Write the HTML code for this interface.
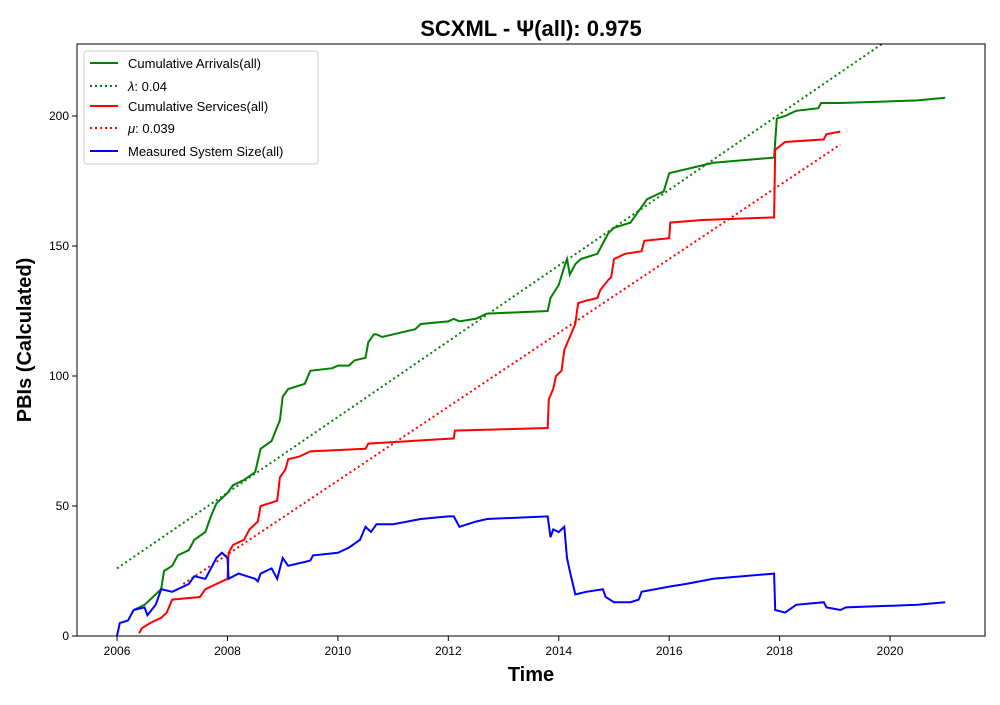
<!DOCTYPE html>
<html><head><meta charset="utf-8"><style>
body{margin:0;background:#fff;font-family:"Liberation Sans","DejaVu Sans",sans-serif}
svg text{font-family:"Liberation Sans","DejaVu Sans",sans-serif}
</style></head><body>
<svg id="chart" width="1000" height="700" xmlns="http://www.w3.org/2000/svg">
<rect width="1000" height="700" fill="#fff"/>
<text x="531" y="36" text-anchor="middle" font-size="22" font-weight="bold">SCXML -  Ψ(all): 0.975</text>
<text x="531" y="681" text-anchor="middle" font-size="20" font-weight="bold">Time</text>
<text transform="translate(31,340) rotate(-90)" text-anchor="middle" font-size="20" font-weight="bold">PBIs (Calculated)</text>
<defs><clipPath id="pc"><rect x="77" y="44" width="908" height="592"/></clipPath></defs>
<g id="ticks"></g>
<g id="series" clip-path="url(#pc)"></g>
<rect x="77" y="44" width="908" height="592" fill="none" stroke="#000" stroke-width="1"/>
<g>
<rect x="84" y="51" width="234" height="113" rx="3" fill="#fff" fill-opacity="0.8" stroke="#ccc"/>
<g><line x1="90" y1="63" x2="118" y2="63" stroke="green" stroke-width="2"/><text x="128" y="68" font-size="13">Cumulative Arrivals(all)</text></g>
<g><line x1="90" y1="86" x2="118" y2="86" stroke="green" stroke-width="2" stroke-dasharray="2,3"/><text x="128" y="91" font-size="13"><tspan font-style="italic">λ</tspan>: 0.04</text></g>
<g><line x1="90" y1="106" x2="118" y2="106" stroke="red" stroke-width="2"/><text x="128" y="111" font-size="13">Cumulative Services(all)</text></g>
<g><line x1="90" y1="128" x2="118" y2="128" stroke="red" stroke-width="2" stroke-dasharray="2,3"/><text x="128" y="133" font-size="13"><tspan font-style="italic">μ</tspan>: 0.039</text></g>
<g><line x1="90" y1="151" x2="118" y2="151" stroke="blue" stroke-width="2"/><text x="128" y="156" font-size="13">Measured System Size(all)</text></g>
</g>
</svg>
<script>
const xTicks=[2006,2008,2010,2012,2014,2016,2018,2020];
const yTicks=[0,50,100,150,200];
const arrivalsT=[2006.3,2006.5,2006.7,2006.8,2006.85,2007.0,2007.1,2007.3,2007.4,2007.6,2007.7,2007.8,2008.0,2008.1,2008.3,2008.5,2008.6,2008.8,2008.95,2009.0,2009.1,2009.4,2009.5,2009.9,2010.0,2010.2,2010.3,2010.5,2010.55,2010.65,2010.7,2010.8,2011.2,2011.4,2011.5,2012.0,2012.1,2012.2,2012.5,2012.7,2013.8,2013.85,2014.0,2014.1,2014.15,2014.2,2014.3,2014.4,2014.7,2014.8,2014.9,2015.0,2015.3,2015.4,2015.6,2015.8,2015.9,2016.0,2016.6,2016.8,2017.9,2017.95,2018.1,2018.2,2018.3,2018.7,2018.75,2019.1,2020.5,2021.0];
const arrivalsV=[10,12,16,18,25,27,31,33,37,40,46,51,55,58,60,63,72,75,83,92,95,97,102,103,104,104,106,107,113,116,116,115,117,118,120,121,122,121,122,124,125,130,135,142,145,139,143,145,147,151,155,157,159,162,168,170,171,178,181,182,184,199,200,201,202,203,205,205,206,207];
const servicesT=[2006.4,2006.45,2006.6,2006.8,2006.9,2007.0,2007.5,2007.6,2007.8,2007.9,2008.0,2008.02,2008.1,2008.3,2008.4,2008.55,2008.6,2008.9,2008.95,2009.05,2009.1,2009.3,2009.5,2010.5,2010.55,2012.1,2012.12,2013.8,2013.82,2013.9,2013.95,2014.05,2014.1,2014.2,2014.3,2014.35,2014.5,2014.7,2014.75,2014.9,2014.95,2015.0,2015.2,2015.5,2015.55,2016.0,2016.02,2016.6,2017.9,2017.92,2018.1,2018.8,2018.85,2019.1];
const servicesV=[1,3,5,7,9,14,15,18,20,21,22,32,35,37,41,44,50,52,61,64,68,69,71,72,74,76,79,80,91,95,100,102,110,115,120,128,129,130,133,137,138,145,147,148,152,153,159,160,161,187,190,191,193,194];
const sizeT=[2006.0,2006.05,2006.2,2006.3,2006.5,2006.55,2006.7,2006.8,2007.0,2007.1,2007.3,2007.4,2007.6,2007.7,2007.8,2007.9,2008.0,2008.02,2008.2,2008.5,2008.55,2008.6,2008.8,2008.9,2009.0,2009.1,2009.5,2009.55,2010.0,2010.2,2010.4,2010.5,2010.6,2010.7,2011.0,2011.5,2012.0,2012.1,2012.2,2012.5,2012.7,2013.8,2013.85,2013.9,2014.0,2014.1,2014.15,2014.2,2014.3,2014.5,2014.8,2014.85,2015.0,2015.3,2015.45,2015.5,2016.0,2016.3,2016.8,2017.9,2017.92,2018.1,2018.3,2018.8,2018.85,2019.1,2019.2,2020.5,2021.0];
const sizeV=[0,5,6,10,11,8,12,18,17,18,20,23,22,26,30,32,30,22,24,22,21,24,26,22,30,27,29,31,32,34,37,42,40,43,43,45,46,46,42,44,45,46,38,41,40,42,30,25,16,17,18,15,13,13,14,17,19,20,22,24,10,9,12,13,11,10,11,12,13];
const lambdaT=[2006.0,2021.0];
const lambdaV=[26,244.4];
const muT=[2007.2,2019.1];
const muV=[20,189];

const X0=77,X1=985,Y0=636,Y1=44;
const xMin=2005.275,xMax=2021.72,yMin=0,yMax=227.7;
function sx(v){return X0+(v-xMin)/(xMax-xMin)*(X1-X0);}
function sy(v){return Y0-(v-yMin)/(yMax-yMin)*(Y0-Y1);}
const NS='http://www.w3.org/2000/svg';
const tg=document.getElementById('ticks');
xTicks.forEach(t=>{
  const l=document.createElementNS(NS,'line');
  l.setAttribute('x1',sx(t));l.setAttribute('x2',sx(t));l.setAttribute('y1',Y0);l.setAttribute('y2',Y0+5);l.setAttribute('stroke','#000');
  
  
  tg.appendChild(l);
  const tx=document.createElementNS(NS,'text');
  tx.setAttribute('x',sx(t));tx.setAttribute('y',Y0+19);tx.setAttribute('text-anchor','middle');tx.setAttribute('font-size','12');
  tx.textContent=t;
  
  
  tg.appendChild(tx);
});
yTicks.forEach(t=>{
  const l=document.createElementNS(NS,'line');
  l.setAttribute('x1',X0-5);l.setAttribute('x2',X0);l.setAttribute('y1',sy(t));l.setAttribute('y2',sy(t));l.setAttribute('stroke','#000');
  
  
  tg.appendChild(l);
  const tx=document.createElementNS(NS,'text');
  tx.setAttribute('x',X0-8);tx.setAttribute('y',sy(t)+4);tx.setAttribute('text-anchor','end');tx.setAttribute('font-size','12');
  tx.textContent=t;
  
  
  tg.appendChild(tx);
});
const sg=document.getElementById('series');
function draw(T,V,color,dash,name){
  const p=document.createElementNS(NS,'polyline');
  p.setAttribute('points',T.map((t,i)=>sx(t).toFixed(1)+','+sy(V[i]).toFixed(1)).join(' '));
  p.setAttribute('fill','none');p.setAttribute('stroke',color);p.setAttribute('stroke-width','2');
  if(dash)p.setAttribute('stroke-dasharray',dash);
  
  
  sg.appendChild(p);
}
draw(lambdaT,lambdaV,'green','2,3','lambda-line');
draw(muT,muV,'red','2,3','mu-line');
draw(arrivalsT,arrivalsV,'green',null,'cumulative-arrivals-line');
draw(servicesT,servicesV,'red',null,'cumulative-services-line');
draw(sizeT,sizeV,'blue',null,'system-size-line');
</script>
</body></html>
